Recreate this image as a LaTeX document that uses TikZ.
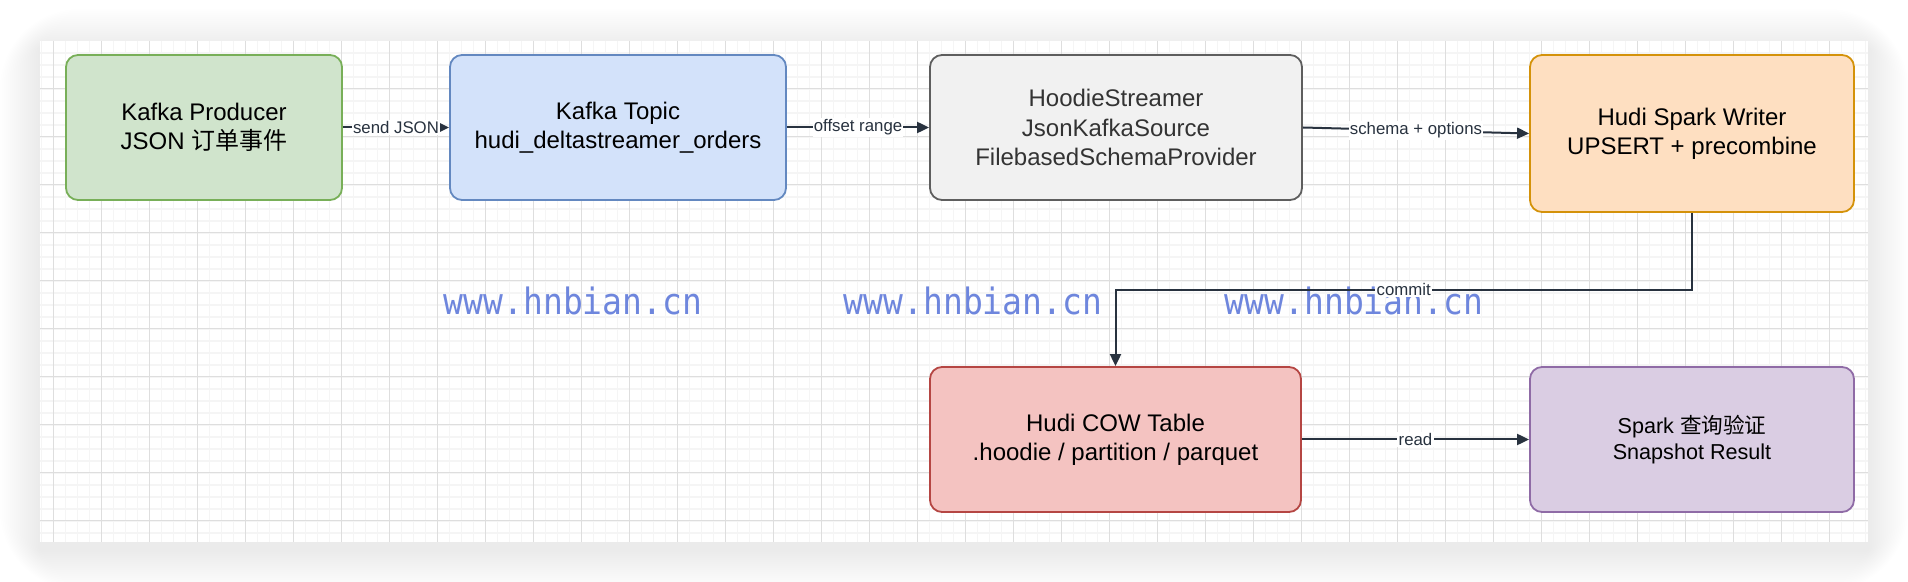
\documentclass[tikz,border=0pt]{standalone}
\usepackage{fontspec}
\usepackage{tikz}
\usepackage{xcolor}
\setmainfont{Liberation Sans}
\newfontfamily\cjkfont{Noto Sans CJK SC}
\newfontfamily\wmfont{DejaVu Sans Mono}
\usetikzlibrary{arrows.meta}

\definecolor{greenfill}{HTML}{D0E4CC}
\definecolor{greenline}{HTML}{78AF58}
\definecolor{bluefill}{HTML}{D3E2FA}
\definecolor{blueline}{HTML}{6388C0}
\definecolor{grayfill}{HTML}{F1F1F1}
\definecolor{grayline}{HTML}{5E5E5E}
\definecolor{orangefill}{HTML}{FEDFC1}
\definecolor{orangeline}{HTML}{D4920A}
\definecolor{redfill}{HTML}{F4C3C1}
\definecolor{redline}{HTML}{B54643}
\definecolor{purplefill}{HTML}{DACDE3}
\definecolor{purpleline}{HTML}{8F6BA6}
\definecolor{edgecol}{HTML}{28323F}
\definecolor{wmblue}{HTML}{6E86DD}
\definecolor{gridmajor}{HTML}{DEDEDE}
\definecolor{gridminor}{HTML}{F5F5F5}

\begin{document}
\begin{tikzpicture}[x=0.5pt, y=-0.5pt,
		box/.style={draw, rounded corners=6pt, line width=0.9pt, align=center,
			font=\fontsize{12}{14.6}\selectfont},
		conn/.style={draw=edgecol, line width=1pt, -{Triangle[length=6pt,width=5.5pt]}},
		lbl/.style={fill=white, inner sep=0.6pt, text=edgecol, font=\fontsize{8.4}{10}\selectfont},
		wmark/.style={text=wmblue, font=\wmfont\fontsize{16.5}{18}\selectfont, yscale=1.1, transform shape},
		minorgrid/.style={draw=gridminor, line width=0.6pt},
		majorgrid/.style={draw=gridmajor, line width=0.5pt}]
		
		% page
		\fill [white] (0,0) rectangle (1908,582);
		\useasboundingbox (0,0) rectangle (1908,582);
		
		% shadow of the canvas
		\foreach \i in {1,...,20}
			\fill [black, opacity=0.0045, rounded corners=2*\i pt] (40-2*\i, 41-2*\i+8) rectangle (1868+2*\i, 542+2*\i+8);
		\fill [white] (40,41) rectangle (1868,542);
		
		% grid
		\foreach \gx in {41.6,53.6,...,1866}
			\draw [minorgrid] (\gx,41) -- (\gx,542);
		\foreach \gy in {53,65,...,540}
			\draw [minorgrid] (40,\gy) -- (1868,\gy);
		\foreach \gx in {53.6,101.6,...,1866}
			\draw [majorgrid] (\gx,41) -- (\gx,542);
		\foreach \gy in {89,137,...,540}
			\draw [majorgrid] (40,\gy) -- (1868,\gy);
		
		% watermark
		\node [wmark] (wm1) at (573,301) {www.hnbian.cn};
		\node [wmark] (wm2) at (973,301) {www.hnbian.cn};
		\node [wmark] (wm3) at (1354,301) {www.hnbian.cn};
		
		% node 1
		\node [box, fill=greenfill, draw=greenline, minimum width=138pt, minimum height=72.5pt]
			(producer) at (204,127.5) {Kafka Producer\\JSON {\cjkfont 订单事件}};
		
		% node 2
		\node [box, fill=bluefill, draw=blueline, minimum width=168pt, minimum height=72.5pt]
			(topic) at (618,127.5) {Kafka Topic\\hudi\_deltastreamer\_orders};
		
		% node 3
		\node [box, fill=grayfill, draw=grayline, text=black!80, minimum width=186pt, minimum height=72.5pt]
			(streamer) at (1116,127.5) {HoodieStreamer\\JsonKafkaSource\\FilebasedSchemaProvider};
		
		% node 4
		\node [box, fill=orangefill, draw=orangeline, minimum width=162pt, minimum height=78.5pt]
			(writer) at (1692,133.5) {Hudi Spark Writer\\UPSERT + precombine};
		
		% node 5
		\node [box, fill=redfill, draw=redline, minimum width=185.5pt, minimum height=72.5pt]
			(cow) at (1115.5,439.5) {Hudi COW Table\\.hoodie / partition / parquet};
		
		% node 6
		\node [box, fill=purplefill, draw=purpleline, minimum width=162pt, minimum height=72.5pt,
			font=\fontsize{10.8}{13}\selectfont]
			(query) at (1692,439.5) {Spark {\cjkfont 查询验证}\\Snapshot Result};
		
		% arrows
		\draw [conn] (producer.east) -- node [lbl] {send JSON} (topic.west);
		\draw [conn] (topic.east) -- node [lbl] {offset range} (streamer.west);
		\draw [conn] (streamer.east) -- node [lbl] {schema + options} (writer.west);
		\draw [conn] (writer.south) -- ++(0,77) -| node [lbl, pos=0.25] {commit} (cow.north);
		\draw [conn] (cow.east) -- node [lbl] {read} (query.west);
		
\end{tikzpicture}
\end{document}
